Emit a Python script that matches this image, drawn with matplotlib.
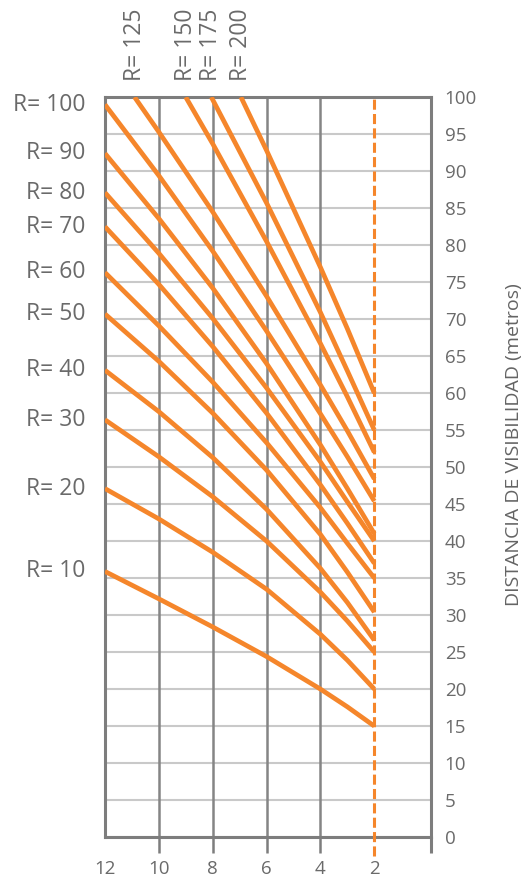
import matplotlib
matplotlib.use("Agg")
import matplotlib.pyplot as plt

plt.rcParams['font.family'] = ['Open Sans', 'DejaVu Sans']

grade_main = [12, 10, 8, 6, 4, 3, 2]

# distancia de visibilidad (m) para cada radio que arranca en el borde izquierdo
vis_r10 = [35.9, 32.2, 28.4, 24.4, 20.0, 17.6, 15.0]
vis_r20 = [47.1, 43.0, 38.5, 33.5, 27.4, 23.9, 20.0]
vis_r30 = [56.4, 51.4, 46.0, 40.0, 33.1, 29.2, 25.0]
vis_r40 = [63.1, 57.5, 51.3, 44.3, 36.3, 31.7, 26.6]
vis_r50 = [70.7, 64.3, 57.3, 49.6, 40.9, 35.8, 30.4]
vis_r60 = [76.3, 69.1, 61.5, 53.3, 44.5, 39.7, 35.0]
vis_r70 = [82.5, 74.7, 66.3, 57.3, 47.6, 42.4, 37.0]
vis_r80 = [87.1, 78.9, 70.1, 60.7, 50.7, 45.3, 40.0]
vis_r90 = [92.4, 83.6, 74.2, 64.0, 53.0, 47.1, 41.0]
vis_r100 = [99.0, 89.4, 79.2, 68.4, 57.2, 51.4, 45.4]

# radios grandes: arrancan en el borde superior
grade_r125 = [10.9, 10, 8, 6, 4, 3, 2]
vis_r125 = [100, 95.3, 84.5, 73.1, 61.1, 54.9, 48.4]
grade_r150 = [9.0, 8, 6, 4, 3, 2]
vis_r150 = [100, 93.7, 80.5, 66.7, 59.5, 52.0]
grade_r175 = [8.05, 6, 4, 3, 2]
vis_r175 = [100, 85.7, 70.9, 63.0, 55.0]
grade_r200 = [6.95, 6, 4, 3, 2]
vis_r200 = [100, 92.8, 77.0, 68.7, 60.0]

radios_left = [10, 20, 30, 40, 50, 60, 70, 80, 90, 100]
series_left = [vis_r10, vis_r20, vis_r30, vis_r40, vis_r50,
               vis_r60, vis_r70, vis_r80, vis_r90, vis_r100]
radios_top = [125, 150, 175, 200]
series_top = [(grade_r125, vis_r125), (grade_r150, vis_r150),
              (grade_r175, vis_r175), (grade_r200, vis_r200)]

x_ticks = [12, 10, 8, 6, 4, 2]
y_ticks = list(range(0, 101, 5))

orange = '#f5862b'
dark = '#7d7d7d'
txt = '#6a6a6a'

fig = plt.figure(figsize=(5.3, 8.83), dpi=100)
ax = fig.add_axes([0.198, 0.052, 0.615, 0.838])

ax.set_xlim(12, -0.1)
ax.set_ylim(0, 100)

# grid
ax.set_yticks(y_ticks)
ax.grid(axis='y', color='#c9c9c9', lw=1.5)
ax.set_axisbelow(True)
for gx in [10, 8, 6, 4]:
    ax.axvline(gx, color='#858585', lw=1.8, zorder=1)

for R, vals in zip(radios_left, series_left):
    ax.plot(grade_main, vals, color=orange, lw=3.4, solid_capstyle='butt',
            solid_joinstyle='round', zorder=3)
    ax.text(-0.06, vals[0], f'R= {R}', transform=ax.get_yaxis_transform(),
            ha='right', va='center', fontsize=16.5, color=txt)

for R, (gx, vals) in zip(radios_top, series_top):
    ax.plot(gx, vals, color=orange, lw=3.4, solid_capstyle='butt',
            solid_joinstyle='round', zorder=3)
    ax.text(gx[0], 1.022, f'R= {R}', transform=ax.get_xaxis_transform(),
            rotation=90, ha='center', va='bottom', fontsize=16.5, color=txt)

# linea discontinua en 2
ax.axvline(2, ymin=-0.025, ymax=1, clip_on=False, color=orange, lw=2.2,
           dashes=(3.3, 1.4), zorder=4)

# ejes
for s in ax.spines.values():
    s.set_color(dark)
    s.set_linewidth(2.2)
ax.plot([1, 1], [0, -0.022], transform=ax.transAxes, clip_on=False,
        color=dark, lw=2.2, solid_capstyle='butt')

ax.yaxis.tick_right()
ax.tick_params(axis='y', length=0, pad=10, labelsize=13.5, labelcolor=txt)
ax.set_xticks(x_ticks)
ax.set_xticklabels([str(t) for t in x_ticks])
ax.tick_params(axis='x', length=11.5, width=1.8, color=dark, pad=5,
               labelsize=13.5, labelcolor=txt)
ticks = ax.xaxis.get_major_ticks()
ticks[0].tick1line.set_visible(False)
ticks[-1].tick1line.set_visible(False)

fig.text(514 / 530, 1 - 445 / 883, 'DISTANCIA DE VISIBILIDAD (metros)',
         rotation=90, ha='center', va='center', fontsize=14, color='#646464')

fig.savefig('out.png', dpi=100)
